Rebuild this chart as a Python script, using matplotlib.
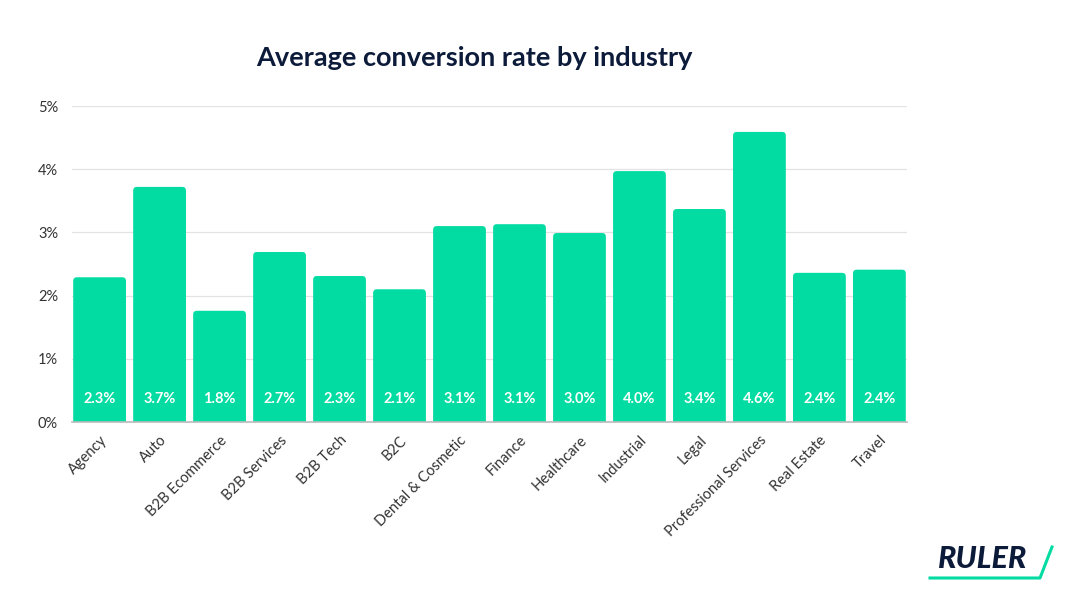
import matplotlib
matplotlib.use("Agg")
import matplotlib.pyplot as plt
from matplotlib.lines import Line2D
from matplotlib.patches import FancyBboxPatch

categories = ["Agency", "Auto", "B2B Ecommerce", "B2B Services", "B2B Tech", "B2C",
              "Dental & Cosmetic", "Finance", "Healthcare", "Industrial", "Legal",
              "Professional Services", "Real Estate", "Travel"]
values = [2.29, 3.72, 1.76, 2.69, 2.31, 2.10, 3.10, 3.13, 2.99, 3.97, 3.37, 4.59, 2.36, 2.41]
labels = ["2.3%", "3.7%", "1.8%", "2.7%", "2.3%", "2.1%", "3.1%", "3.1%", "3.0%",
          "4.0%", "3.4%", "4.6%", "2.4%", "2.4%"]
yticks = [0, 1, 2, 3, 4, 5]
ytick_labels = ["0%", "1%", "2%", "3%", "4%", "5%"]

plt.rcParams['font.family'] = ['Lato', 'DejaVu Sans']

BAR = "#02DCA2"
NAVY = "#0D1B3A"

fig = plt.figure(figsize=(10.75, 6.07), dpi=100)
ax = fig.add_axes([72/1075, 1-422/607, (907-72)/1075, (422-106)/607])

x = list(range(len(categories)))
bars = ax.bar(x, values, width=0.88, color=BAR, zorder=3)
# replace with slightly rounded-top versions
for rect in bars:
    rect.set_visible(False)
    bx, by = rect.get_x(), rect.get_y()
    bw, bh = rect.get_width(), rect.get_height()
    p = FancyBboxPatch((bx, by - 0.2), bw, bh + 0.2,
                       boxstyle="round,pad=0,rounding_size=0.06",
                       mutation_aspect=1.0, facecolor=BAR, edgecolor="none", zorder=3)
    ax.add_patch(p)
    p.set_clip_box(ax.bbox)

for xi, lab in zip(x, labels):
    ax.text(xi, 0.36, lab, ha="center", va="center", color="white",
            fontsize=10.5, fontweight="bold", zorder=4)

ax.set_xlim(-0.46, len(categories) - 0.54)
ax.set_ylim(0, 5)
ax.set_yticks(yticks)
ax.set_yticklabels(ytick_labels, fontsize=10.5, color="#333333")
ax.set_xticks(x)
ax.set_xticklabels(categories, rotation=45, ha="right", rotation_mode="anchor",
                   fontsize=10.5, color="#333333")
ax.tick_params(axis="both", length=0)
ax.tick_params(axis="y", pad=10)
ax.tick_params(axis="x", pad=8)
ax.yaxis.grid(True, color="#E3E3E3", linewidth=0.9, zorder=0)
ax.set_axisbelow(True)
for s in ["top", "right", "left"]:
    ax.spines[s].set_visible(False)
ax.spines["bottom"].set_color("#BBBBBB")
ax.spines["bottom"].set_linewidth(1.2)
ax.spines["bottom"].set_zorder(5)

fig.text(474/1075, 1-58/607, "Average conversion rate by industry", ha="center", va="center",
         fontsize=19.5, fontweight="bold", color=NAVY)

# logo
fig.text(983/1075, 1-559/607, "RULER", ha="center", va="center", fontsize=22,
         fontweight="black", fontstyle="italic", color=NAVY)
fig.add_artist(Line2D([930/1075, 1040/1075, 1052/1075], [1-578/607, 1-578/607, 1-547/607],
                      color=BAR, linewidth=2.2, transform=fig.transFigure))

fig.savefig("out.png", dpi=100, facecolor="white")
